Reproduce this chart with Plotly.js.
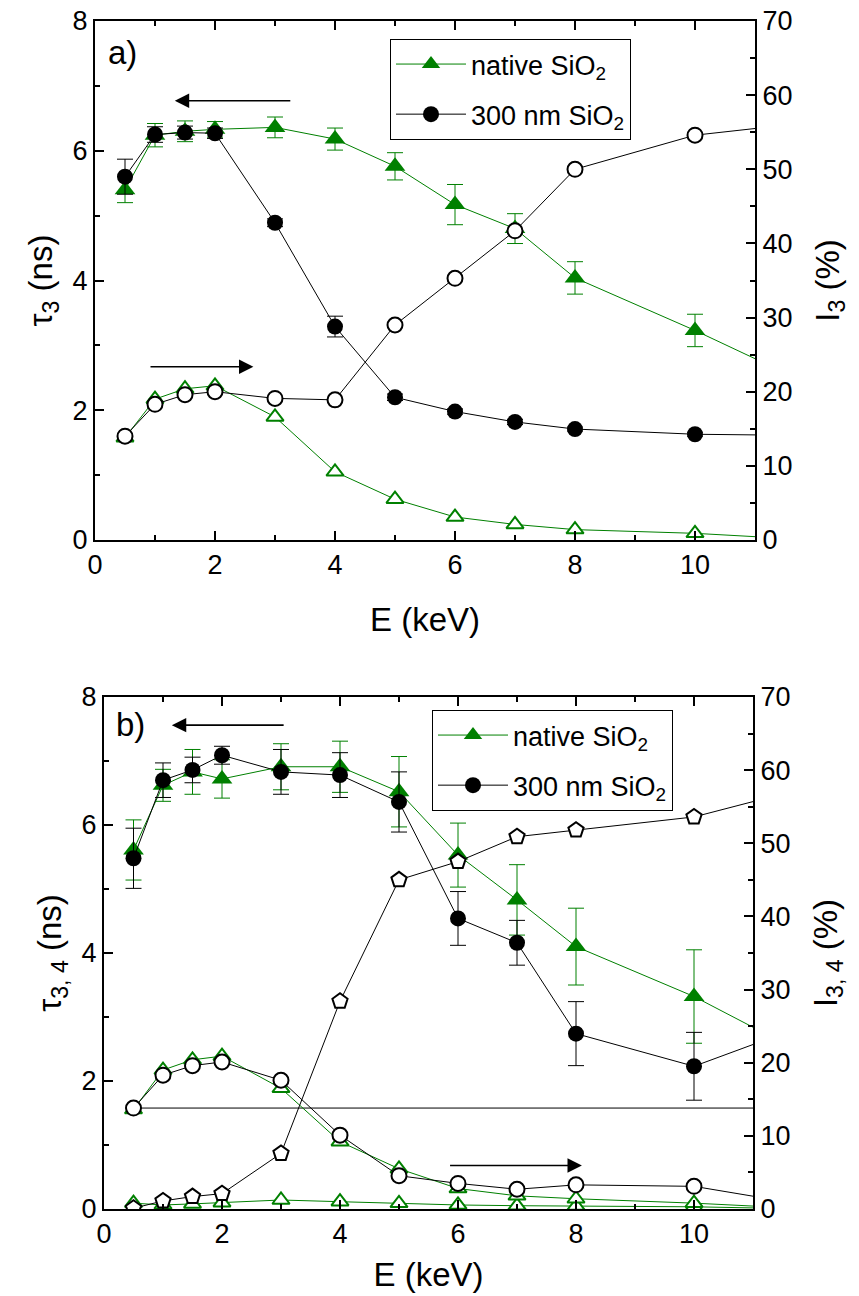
<!DOCTYPE html>
<html>
<head>
<meta charset="utf-8">
<script src="https://cdn.plot.ly/plotly-3.0.1.min.js"></script>
<style>html,body{margin:0;padding:0;background:#fff;}#chart{width:859px;height:1296px;}</style>
</head>
<body>
<div id="chart"></div>
<script>
// ---- data ----
const E = [0.5, 1, 1.5, 2, 3, 4, 5, 6, 7, 8, 10, 12];

// panel a
const aNativeTau    = [5.40, 6.24, 6.30, 6.33, 6.36, 6.18, 5.76, 5.17, 4.80, 4.04, 3.23, 2.36];
const aNativeTauErr = [0.20, 0.18, 0.16, 0.12, 0.16, 0.17, 0.21, 0.31, 0.23, 0.25, 0.25, 0];
const aOxideTau     = [5.60, 6.25, 6.28, 6.27, 4.89, 3.29, 2.20, 1.98, 1.82, 1.71, 1.63, 1.61];
const aOxideTauErr  = [0.27, 0.12, 0.10, 0.08, 0.06, 0.16, 0.05, 0.04, 0.04, 0.03, 0.03, 0];
const aOxideI       = [14.0, 18.3, 19.6, 20.0, 19.1, 18.9, 29.0, 35.3, 41.7, 50.0, 54.6, 56.4];
const aNativeI      = [13.8, 19.0, 20.4, 20.8, 16.6, 9.2, 5.5, 3.1, 2.1, 1.4, 0.9, 0.0];

// panel b
const bNativeTau    = [5.61, 6.62, 6.83, 6.72, 6.91, 6.91, 6.52, 5.53, 4.83, 4.10, 3.32, 2.36];
const bNativeTauErr = [0.47, 0.25, 0.35, 0.30, 0.36, 0.40, 0.55, 0.50, 0.55, 0.60, 0.73, 0];
const bOxideTau     = [5.48, 6.70, 6.86, 7.09, 6.83, 6.78, 6.36, 4.54, 4.16, 2.74, 2.23, 2.91];
const bOxideTauErr  = [0.47, 0.27, 0.20, 0.14, 0.35, 0.35, 0.47, 0.42, 0.35, 0.50, 0.53, 0];
const bNativeI3     = [13.6, 19.0, 20.4, 20.9, 16.5, 9.2, 5.5, 2.8, 1.8, 1.4, 0.8, 0.0];
const bNativeI4     = [0.8, 0.55, 0.7, 0.86, 1.23, 1.0, 0.78, 0.55, 0.45, 0.4, 0.3, 0.0];
const bOxideI3      = [13.8, 18.3, 19.6, 20.1, 17.6, 10.1, 4.55, 3.5, 2.7, 3.3, 3.1, 0.4];
const bOxideI4      = [0.1, 1.1, 1.7, 2.1, 7.6, 28.4, 45.0, 47.5, 50.9, 51.8, 53.6, 57.8];
const bRefX = [0.5, 12];
const bRefY = [13.8, 13.8];

const legendNames = ['native SiO<sub>2</sub>', '300 nm SiO<sub>2</sub>'];
const xTickVals = [0, 2, 4, 6, 8, 10];
const tauTickVals = [0, 2, 4, 6, 8];
const iTickVals = [0, 10, 20, 30, 40, 50, 60, 70];

// ---- styles ----
const GREEN = '#008000';
const BLACK = '#000000';
const FONT = 'Liberation Sans, Arial, sans-serif';

function filledTri(x, y, err, xa, ya, name, legend) {
  return {x, y, xaxis: xa, yaxis: ya, name, legend, legendgroup: 'native', type: 'scatter', mode: 'lines+markers',
    line: {color: GREEN, width: 1},
    marker: {symbol: 'triangle-up', size: 18, color: GREEN},
    error_y: {type: 'data', array: err, visible: true, color: GREEN, thickness: 1, width: 8}};
}
function filledCirc(x, y, err, xa, ya, name, legend) {
  return {x, y, xaxis: xa, yaxis: ya, name, legend, legendgroup: 'oxide', type: 'scatter', mode: 'lines+markers',
    line: {color: BLACK, width: 1},
    marker: {symbol: 'circle', size: 16, color: BLACK},
    error_y: {type: 'data', array: err, visible: true, color: BLACK, thickness: 1, width: 8}};
}
function openMark(x, y, xa, ya, symbol, color, size) {
  return {x, y, xaxis: xa, yaxis: ya, showlegend: false, type: 'scatter', mode: 'lines+markers',
    line: {color: color, width: 1},
    marker: {symbol: symbol, size: size, color: '#ffffff', line: {color: color, width: 2}}};
}

const traces = [
  // panel a
  openMark(E, aNativeI, 'x', 'y2', 'triangle-up', GREEN, 15),
  openMark(E, aOxideI, 'x', 'y2', 'circle', BLACK, 15),
  filledTri(E, aNativeTau, aNativeTauErr, 'x', 'y', legendNames[0], 'legend'),
  filledCirc(E, aOxideTau, aOxideTauErr, 'x', 'y', legendNames[1], 'legend'),
  // panel b
  {x: bRefX, y: bRefY, xaxis: 'x2', yaxis: 'y4', showlegend: false, type: 'scatter', mode: 'lines',
   line: {color: BLACK, width: 1}},
  openMark(E, bNativeI4, 'x2', 'y4', 'triangle-up', GREEN, 15),
  openMark(E, bNativeI3, 'x2', 'y4', 'triangle-up', GREEN, 15),
  openMark(E, bOxideI3, 'x2', 'y4', 'circle', BLACK, 15),
  openMark(E, bOxideI4, 'x2', 'y4', 'pentagon', BLACK, 16),
  filledTri(E, bNativeTau, bNativeTauErr, 'x2', 'y3', legendNames[0], 'legend2'),
  filledCirc(E, bOxideTau, bOxideTauErr, 'x2', 'y3', legendNames[1], 'legend2'),
];

const W = 859, H = 1296;
const px = v => v / W;
const py = v => 1 - v / H;

const TICKFONT = {family: FONT, size: 27, color: BLACK};
const TITLEFONT = {family: FONT, size: 33, color: BLACK};

const axBase = {
  showline: true, linewidth: 2, linecolor: BLACK, showgrid: false, zeroline: false,
  ticks: 'inside', ticklen: 9, tickwidth: 2, tickcolor: BLACK,
  tickfont: TICKFONT,
};
function xAxis(anchor, domain, standoff) {
  return Object.assign({}, axBase, {
    anchor, domain, range: [0, 11], tickmode: 'array', tickvals: xTickVals, mirror: 'ticks',
    minor: {ticks: 'inside', ticklen: 5, tickwidth: 2, dtick: 1, tick0: 0, tickcolor: BLACK, showgrid: false},
    title: {text: 'E (keV)', font: TITLEFONT, standoff: standoff},
  });
}
function yLeft(anchor, domain, title) {
  return Object.assign({}, axBase, {
    anchor, domain, range: [0, 8], tickmode: 'array', tickvals: tauTickVals,
    minor: {ticks: 'inside', ticklen: 5, tickwidth: 2, dtick: 1, tick0: 0, tickcolor: BLACK, showgrid: false},
    title: {text: title, font: TITLEFONT, standoff: 10},
  });
}
function yRight(anchor, overlaying, title) {
  return Object.assign({}, axBase, {
    anchor, overlaying, side: 'right', range: [0, 70], tickmode: 'array', tickvals: iTickVals,
    minor: {ticks: 'inside', ticklen: 5, tickwidth: 2, dtick: 5, tick0: 0, tickcolor: BLACK, showgrid: false},
    title: {text: title, font: TITLEFONT, standoff: 24},
  });
}

const domAx = [px(95), px(755)], domAy = [py(540), py(21)];
const domBx = [px(104), px(753)], domBy = [py(1209), py(697)];

const legendStyle = {
  bgcolor: '#ffffff', bordercolor: BLACK, borderwidth: 1,
  font: {family: FONT, size: 27, color: BLACK},
  xanchor: 'left', yanchor: 'top', itemwidth: 70, tracegroupgap: 12,
};

function arrow(xr, yr, tipX, tipY, tailX, tailY) {
  return {xref: xr, yref: yr, axref: xr, ayref: yr, x: tipX, y: tipY, ax: tailX, ay: tailY,
    text: '', showarrow: true, arrowhead: 2, arrowsize: 1.8, arrowwidth: 1.6, arrowcolor: BLACK};
}

const layout = {
  width: W, height: H,
  margin: {l: 0, r: 0, t: 0, b: 0},
  paper_bgcolor: '#ffffff', plot_bgcolor: 'rgba(0,0,0,0)',
  font: {family: FONT, color: BLACK},
  showlegend: true,
  xaxis: xAxis('y', domAx, 28),
  yaxis: yLeft('x', domAy, 'τ<sub>3</sub> (ns)'),
  yaxis2: yRight('x', 'y', 'I<sub>3</sub> (%)'),
  xaxis2: xAxis('y3', domBx, 14),
  yaxis3: yLeft('x2', domBy, 'τ<sub>3, 4</sub> (ns)'),
  yaxis4: yRight('x2', 'y3', 'I<sub>3, 4</sub> (%)'),
  legend: Object.assign({}, legendStyle, {x: px(390), y: py(39)}),
  legend2: Object.assign({}, legendStyle, {x: px(432), y: py(710)}),
  annotations: [
    {xref: 'paper', yref: 'paper', x: px(106), y: py(32), xanchor: 'left', yanchor: 'top',
     text: 'a)', showarrow: false, font: {family: FONT, size: 33, color: BLACK}},
    {xref: 'paper', yref: 'paper', x: px(114), y: py(704), xanchor: 'left', yanchor: 'top',
     text: 'b)', showarrow: false, font: {family: FONT, size: 33, color: BLACK}},
    arrow('x', 'y', 1.33, 6.77, 3.28, 6.77),
    arrow('x', 'y', 2.64, 2.67, 0.9, 2.67),
    arrow('x2', 'y3', 1.15, 7.56, 3.07, 7.56),
    arrow('x2', 'y3', 8.1, 0.68, 5.84, 0.68),
  ],
};

Plotly.newPlot('chart', traces, layout, {displayModeBar: false, staticPlot: true});
</script>
</body>
</html>
